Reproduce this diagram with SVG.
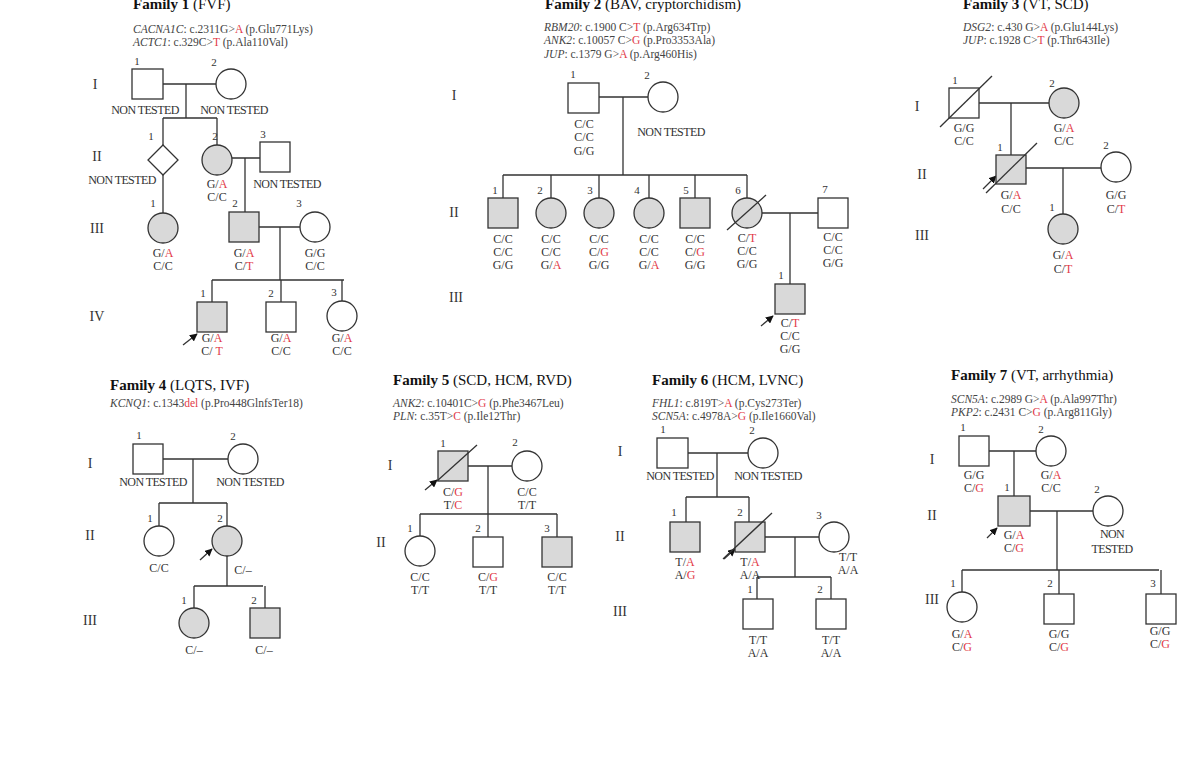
<svg xmlns="http://www.w3.org/2000/svg" width="1200" height="765" viewBox="0 0 1200 765">
<style>
text{font-family:"Liberation Serif","Times New Roman",serif;fill:#333}
.h{font-size:15px;fill:#111}
.hb{font-weight:bold}
.g{font-size:11.5px;fill:#444}
.g tspan.i{font-style:italic}
.t{font-size:12px;text-anchor:middle}
.nt{font-size:12px;text-anchor:middle;letter-spacing:-0.6px}
.n{font-size:11px;text-anchor:middle}
.rm{font-size:14px;text-anchor:middle}
.r{fill:#e23a48}
.s{fill:#fff;stroke:#333;stroke-width:1.3}
.a{fill:#d9d9d9;stroke:#333;stroke-width:1.3}
.l{fill:none;stroke:#333;stroke-width:1.3}
</style>
<defs><marker id="ar" viewBox="0 0 10 10" refX="9" refY="5" markerWidth="6" markerHeight="6" orient="auto"><path d="M0,0L10,5L0,10z" fill="#111"/></marker></defs>
<rect width="1200" height="765" fill="#fff"/>

<!-- Family 1 -->
<g id="fam1-header"><text x="133" y="9" class="h"><tspan class="hb">Family  1</tspan> (FVF)</text>
<text x="133" y="33" class="g"><tspan class="i">CACNA1C</tspan>: c.2311G&gt;<tspan class="r">A</tspan> (p.Glu771Lys)</text>
<text x="133" y="46" class="g"><tspan class="i">ACTC1</tspan>: c.329C&gt;<tspan class="r">T</tspan> (p.Ala110Val)</text>
<text x="95" y="89" class="rm">I</text><text x="97" y="161" class="rm">II</text><text x="97" y="233" class="rm">III</text><text x="97" y="321" class="rm">IV</text></g>
<g id="fam1-connectors">
<path class="l" d="M163,84H216M186,84V118M163,118H217M163,118V145M217,118V145M232,158H260M245,158V212M163,175V213M259,227H300M280,227V280M212,280H344M212,280V302M281,280V302M342,280V301"/>
<path class="l" d="M183,345L197,334" marker-end="url(#ar)"/></g>
<g id="f1-I1"><rect class="s" x="132" y="69" width="31" height="30"/><text x="137" y="65" class="n">1</text><text x="145" y="114" class="nt">NON TESTED</text></g>
<g id="f1-I2"><circle class="s" cx="231" cy="84" r="15"/><text x="214" y="66" class="n">2</text><text x="234" y="114" class="nt">NON TESTED</text></g>
<g id="f1-II1"><path class="s" d="M163,145L178,160L163,175L148,160Z"/><text x="151" y="140" class="n">1</text><text x="122" y="184" class="nt">NON TESTED</text></g>
<g id="f1-II2"><circle class="a" cx="217" cy="160" r="15"/><text x="215" y="140" class="n">2</text><text x="217" y="188" class="t">G/<tspan class="r">A</tspan></text><text x="217" y="201" class="t">C/C</text></g>
<g id="f1-II3"><rect class="s" x="260" y="142" width="30" height="30"/><text x="263" y="138" class="n">3</text><text x="287" y="188" class="nt">NON TESTED</text></g>
<g id="f1-III1"><circle class="a" cx="163" cy="228" r="15"/><text x="153" y="207" class="n">1</text><text x="163" y="257" class="t">G/<tspan class="r">A</tspan></text><text x="163" y="270" class="t">C/C</text></g>
<g id="f1-III2"><rect class="a" x="229" y="212" width="30" height="30"/><text x="235" y="207" class="n">2</text><text x="244" y="257" class="t">G/<tspan class="r">A</tspan></text><text x="244" y="270" class="t">C/<tspan class="r">T</tspan></text></g>
<g id="f1-III3"><circle class="s" cx="315" cy="227" r="15"/><text x="299" y="207" class="n">3</text><text x="315" y="257" class="t">G/G</text><text x="315" y="270" class="t">C/C</text></g>
<g id="f1-IV1"><rect class="a" x="197" y="302" width="30" height="30"/><text x="203" y="297" class="n">1</text><text x="212" y="342" class="t">G/<tspan class="r">A</tspan></text><text x="212" y="355" class="t">C/ <tspan class="r">T</tspan></text></g>
<g id="f1-IV2"><rect class="s" x="266" y="302" width="30" height="30"/><text x="271" y="297" class="n">2</text><text x="281" y="342" class="t">G/<tspan class="r">A</tspan></text><text x="281" y="355" class="t">C/C</text></g>
<g id="f1-IV3"><circle class="s" cx="342" cy="316" r="15"/><text x="334" y="296" class="n">3</text><text x="342" y="342" class="t">G/<tspan class="r">A</tspan></text><text x="342" y="355" class="t">C/C</text></g>

<!-- Family 2 -->
<g id="fam2-header"><text x="545" y="9" class="h"><tspan class="hb">Family  2</tspan> (BAV, cryptorchidism)</text>
<text x="544" y="31" class="g"><tspan class="i">RBM20</tspan>: c.1900 C&gt;<tspan class="r">T</tspan> (p.Arg634Trp)</text>
<text x="544" y="44" class="g"><tspan class="i">ANK2</tspan>: c.10057 C&gt;<tspan class="r">G</tspan> (p.Pro3353Ala)</text>
<text x="544" y="58" class="g"><tspan class="i">JUP</tspan>: c.1379 G&gt;<tspan class="r">A</tspan> (p.Arg460His)</text>
<text x="454" y="100" class="rm">I</text><text x="454" y="217" class="rm">II</text><text x="456" y="302" class="rm">III</text></g>
<g id="fam2-connectors">
<path class="l" d="M599,97H648M623,97V175M503,175H747M503,175V198M551,175V198M599,175V198M649,175V198M695,175V198M747,175V198M762,213H818M790,213V284"/>
<path class="l" d="M761,326L773,316" marker-end="url(#ar)"/></g>
<g id="f2-I1"><rect class="s" x="568" y="83" width="31" height="30"/><text x="573" y="78" class="n">1</text><text x="584" y="128" class="t">C/C</text><text x="584" y="141" class="t">C/C</text><text x="584" y="155" class="t">G/G</text></g>
<g id="f2-I2"><circle class="s" cx="663" cy="97" r="15"/><text x="647" y="79" class="n">2</text><text x="671" y="136" class="nt">NON TESTED</text></g>
<g id="f2-II1"><rect class="a" x="488" y="198" width="30" height="30"/><text x="495" y="194" class="n">1</text><text x="503" y="243" class="t">C/C</text><text x="503" y="256" class="t">C/C</text><text x="503" y="269" class="t">G/G</text></g>
<g id="f2-II2"><circle class="a" cx="551" cy="213" r="15"/><text x="540" y="194" class="n">2</text><text x="551" y="243" class="t">C/C</text><text x="551" y="256" class="t">C/C</text><text x="551" y="269" class="t">G/<tspan class="r">A</tspan></text></g>
<g id="f2-II3"><circle class="a" cx="599" cy="213" r="15"/><text x="590" y="194" class="n">3</text><text x="599" y="243" class="t">C/C</text><text x="599" y="256" class="t">C/<tspan class="r">G</tspan></text><text x="599" y="269" class="t">G/G</text></g>
<g id="f2-II4"><circle class="a" cx="649" cy="213" r="15"/><text x="637" y="194" class="n">4</text><text x="649" y="243" class="t">C/C</text><text x="649" y="256" class="t">C/C</text><text x="649" y="269" class="t">G/<tspan class="r">A</tspan></text></g>
<g id="f2-II5"><rect class="a" x="680" y="198" width="30" height="30"/><text x="686" y="194" class="n">5</text><text x="695" y="243" class="t">C/C</text><text x="695" y="256" class="t">C/<tspan class="r">G</tspan></text><text x="695" y="269" class="t">G/G</text></g>
<g id="f2-II6"><circle class="a" cx="747" cy="213" r="15"/><path class="l" d="M727,230L766,195"/><text x="738" y="194" class="n">6</text><text x="747" y="242" class="t">C/<tspan class="r">T</tspan></text><text x="747" y="255" class="t">C/C</text><text x="747" y="268" class="t">G/G</text></g>
<g id="f2-II7"><rect class="s" x="818" y="198" width="30" height="30"/><text x="825" y="193" class="n">7</text><text x="833" y="241" class="t">C/C</text><text x="833" y="254" class="t">C/C</text><text x="833" y="267" class="t">G/G</text></g>
<g id="f2-III1"><rect class="a" x="775" y="284" width="30" height="30"/><text x="781" y="279" class="n">1</text><text x="790" y="327" class="t">C/<tspan class="r">T</tspan></text><text x="790" y="340" class="t">C/C</text><text x="790" y="353" class="t">G/G</text></g>

<!-- Family 3 -->
<g id="fam3-header"><text x="963" y="9" class="h"><tspan class="hb">Family  3</tspan> (VT, SCD)</text>
<text x="963" y="31" class="g"><tspan class="i">DSG2</tspan>: c.430 G&gt;<tspan class="r">A</tspan> (p.Glu144Lys)</text>
<text x="963" y="44" class="g"><tspan class="i">JUP</tspan>: c.1928 C&gt;<tspan class="r">T</tspan> (p.Thr643Ile)</text>
<text x="917" y="111" class="rm">I</text><text x="922" y="179" class="rm">II</text><text x="922" y="240" class="rm">III</text></g>
<g id="fam3-connectors">
<path class="l" d="M979,103H1049M1011,103V155M1026,168H1101M1063,168V214"/>
<path class="l" d="M983,189L996,176" marker-end="url(#ar)"/></g>
<g id="f3-I1"><rect class="s" x="949" y="88" width="30" height="30"/><path class="l" d="M940,127L992,76"/><text x="955" y="84" class="n">1</text><text x="964" y="132" class="t">G/G</text><text x="964" y="145" class="t">C/C</text></g>
<g id="f3-I2"><circle class="a" cx="1064" cy="103" r="15"/><text x="1052" y="87" class="n">2</text><text x="1064" y="132" class="t">G/<tspan class="r">A</tspan></text><text x="1064" y="145" class="t">C/C</text></g>
<g id="f3-II1"><rect class="a" x="996" y="155" width="30" height="29"/><path class="l" d="M986,193L1037,143"/><text x="1000" y="151" class="n">1</text><text x="1011" y="199" class="t">G/<tspan class="r">A</tspan></text><text x="1011" y="213" class="t">C/C</text></g>
<g id="f3-II2"><circle class="s" cx="1116" cy="167" r="15"/><text x="1106" y="149" class="n">2</text><text x="1116" y="199" class="t">G/G</text><text x="1116" y="213" class="t">C/<tspan class="r">T</tspan></text></g>
<g id="f3-III1"><circle class="a" cx="1063" cy="229" r="15"/><text x="1052" y="211" class="n">1</text><text x="1063" y="259" class="t">G/<tspan class="r">A</tspan></text><text x="1063" y="273" class="t">C/<tspan class="r">T</tspan></text></g>

<!-- Family 4 -->
<g id="fam4-header"><text x="110" y="390" class="h"><tspan class="hb">Family  4</tspan> (LQTS, IVF)</text>
<text x="110" y="407" class="g"><tspan class="i">KCNQ1</tspan>: c.1343<tspan class="r">del</tspan> (p.Pro448GlnfsTer18)</text>
<text x="90" y="468" class="rm">I</text><text x="90" y="540" class="rm">II</text><text x="90" y="625" class="rm">III</text></g>
<g id="fam4-connectors">
<path class="l" d="M163,459H228M193,459V503M159,503H227M159,503V526M227,503V526M227,556V586M194,586H263M194,586V608M265,586V608"/>
<path class="l" d="M200,560L212,549" marker-end="url(#ar)"/></g>
<g id="f4-I1"><rect class="s" x="133" y="444" width="30" height="30"/><text x="139" y="439" class="n">1</text><text x="153" y="486" class="nt">NON TESTED</text></g>
<g id="f4-I2"><circle class="s" cx="243" cy="459" r="15"/><text x="233" y="440" class="n">2</text><text x="250" y="486" class="nt">NON TESTED</text></g>
<g id="f4-II1"><circle class="s" cx="159" cy="541" r="15"/><text x="150" y="522" class="n">1</text><text x="159" y="572" class="t">C/C</text></g>
<g id="f4-II2"><circle class="a" cx="227" cy="541" r="15"/><text x="220" y="522" class="n">2</text><text x="243" y="574" class="t">C/–</text></g>
<g id="f4-III1"><circle class="a" cx="194" cy="623" r="15"/><text x="184" y="604" class="n">1</text><text x="194" y="654" class="t">C/–</text></g>
<g id="f4-III2"><rect class="a" x="250" y="608" width="30" height="30"/><text x="254" y="604" class="n">2</text><text x="264" y="654" class="t">C/–</text></g>

<!-- Family 5 -->
<g id="fam5-header"><text x="393" y="385" class="h"><tspan class="hb">Family  5</tspan> (SCD, HCM, RVD)</text>
<text x="393" y="407" class="g"><tspan class="i">ANK2</tspan>: c.10401C&gt;<tspan class="r">G</tspan> (p.Phe3467Leu)</text>
<text x="393" y="420" class="g"><tspan class="i">PLN</tspan>: c.35T&gt;<tspan class="r">C</tspan> (p.Ile12Thr)</text>
<text x="390" y="470" class="rm">I</text><text x="381" y="547" class="rm">II</text></g>
<g id="fam5-connectors">
<path class="l" d="M468,466H512M488,466V514M420,514H557M420,514V536M488,514V537M557,514V537"/>
<path class="l" d="M425,490L437,480" marker-end="url(#ar)"/></g>
<g id="f5-I1"><rect class="a" x="438" y="451" width="30" height="30"/><path class="l" d="M437,481L477,445"/><text x="443" y="447" class="n">1</text><text x="453" y="496" class="t">C/<tspan class="r">G</tspan></text><text x="453" y="509" class="t">T/<tspan class="r">C</tspan></text></g>
<g id="f5-I2"><circle class="s" cx="527" cy="466" r="15"/><text x="515" y="446" class="n">2</text><text x="527" y="496" class="t">C/C</text><text x="527" y="509" class="t">T/T</text></g>
<g id="f5-II1"><circle class="s" cx="420" cy="551" r="15"/><text x="410" y="532" class="n">1</text><text x="420" y="581" class="t">C/C</text><text x="420" y="594" class="t">T/T</text></g>
<g id="f5-II2"><rect class="s" x="473" y="537" width="30" height="30"/><text x="478" y="532" class="n">2</text><text x="488" y="581" class="t">C/<tspan class="r">G</tspan></text><text x="488" y="594" class="t">T/T</text></g>
<g id="f5-II3"><rect class="a" x="542" y="537" width="30" height="30"/><text x="547" y="532" class="n">3</text><text x="557" y="581" class="t">C/C</text><text x="557" y="594" class="t">T/T</text></g>

<!-- Family 6 -->
<g id="fam6-header"><text x="652" y="385" class="h"><tspan class="hb">Family  6</tspan> (HCM, LVNC)</text>
<text x="652" y="407" class="g"><tspan class="i">FHL1</tspan>: c.819T&gt;<tspan class="r">A</tspan>  (p.Cys273Ter)</text>
<text x="652" y="420" class="g"><tspan class="i">SCN5A</tspan>: c.4978A&gt;<tspan class="r">G</tspan> (p.Ile1660Val)</text>
<text x="620" y="456" class="rm">I</text><text x="620" y="541" class="rm">II</text><text x="620" y="616" class="rm">III</text></g>
<g id="fam6-connectors">
<path class="l" d="M688,453H748M717,453V497M686,497H749M686,497V522M749,497V522M765,537H819M795,537V577M757,577H831M757,577V599M831,577V599"/>
<path class="l" d="M724,559L735,549" marker-end="url(#ar)"/></g>
<g id="f6-I1"><rect class="s" x="657" y="438" width="31" height="30"/><text x="663" y="433" class="n">1</text><text x="680" y="480" class="nt">NON TESTED</text></g>
<g id="f6-I2"><circle class="s" cx="763" cy="453" r="15"/><text x="752" y="434" class="n">2</text><text x="768" y="480" class="nt">NON TESTED</text></g>
<g id="f6-II1"><rect class="a" x="670" y="522" width="30" height="30"/><text x="674" y="516" class="n">1</text><text x="685" y="566" class="t">T/<tspan class="r">A</tspan></text><text x="685" y="579" class="t">A/<tspan class="r">G</tspan></text></g>
<g id="f6-II2"><rect class="a" x="735" y="522" width="30" height="30"/><path class="l" d="M723,559L772,513"/><text x="740" y="516" class="n">2</text><text x="750" y="566" class="t">T/<tspan class="r">A</tspan></text><text x="750" y="579" class="t">A/A</text></g>
<g id="f6-II3"><circle class="s" cx="834" cy="537" r="15"/><text x="819" y="519" class="n">3</text><text x="848" y="561" class="t">T/T</text><text x="848" y="574" class="t">A/A</text></g>
<g id="f6-III1"><rect class="s" x="743" y="599" width="30" height="30"/><text x="750" y="593" class="n">1</text><text x="758" y="644" class="t">T/T</text><text x="758" y="657" class="t">A/A</text></g>
<g id="f6-III2"><rect class="s" x="816" y="599" width="30" height="30"/><text x="820" y="593" class="n">2</text><text x="831" y="644" class="t">T/T</text><text x="831" y="657" class="t">A/A</text></g>

<!-- Family 7 -->
<g id="fam7-header"><text x="951" y="380" class="h"><tspan class="hb">Family  7</tspan> (VT, arrhythmia)</text>
<text x="951" y="403" class="g"><tspan class="i">SCN5A</tspan>: c.2989 G&gt;<tspan class="r">A</tspan> (p.Ala997Thr)</text>
<text x="951" y="416" class="g"><tspan class="i">PKP2</tspan>: c.2431 C&gt;<tspan class="r">G</tspan> (p.Arg811Gly)</text>
<text x="932" y="464" class="rm">I</text><text x="932" y="520" class="rm">II</text><text x="932" y="604" class="rm">III</text></g>
<g id="fam7-connectors">
<path class="l" d="M989,451H1036M1014,451V496M1030,511H1093M1057,511V570M962,570H1159M962,570V592M1059,570V594M1161,570V594"/>
<path class="l" d="M987,538L997,528" marker-end="url(#ar)"/></g>
<g id="f7-I1"><rect class="s" x="959" y="436" width="30" height="30"/><text x="963" y="431" class="n">1</text><text x="974" y="479" class="t">G/G</text><text x="974" y="492" class="t">C/<tspan class="r">G</tspan></text></g>
<g id="f7-I2"><circle class="s" cx="1051" cy="451" r="15"/><text x="1041" y="433" class="n">2</text><text x="1051" y="479" class="t">G/<tspan class="r">A</tspan></text><text x="1051" y="492" class="t">C/C</text></g>
<g id="f7-II1"><rect class="a" x="998" y="496" width="32" height="30"/><text x="1007" y="491" class="n">1</text><text x="1014" y="539" class="t">G/<tspan class="r">A</tspan></text><text x="1014" y="552" class="t">C/<tspan class="r">G</tspan></text></g>
<g id="f7-II2"><circle class="s" cx="1108" cy="511" r="15"/><text x="1097" y="493" class="n">2</text><text x="1112" y="538" class="nt">NON</text><text x="1112" y="553" class="nt">TESTED</text></g>
<g id="f7-III1"><circle class="s" cx="962" cy="607" r="15"/><text x="953" y="587" class="n">1</text><text x="962" y="638" class="t">G/<tspan class="r">A</tspan></text><text x="962" y="651" class="t">C/<tspan class="r">G</tspan></text></g>
<g id="f7-III2"><rect class="s" x="1044" y="594" width="30" height="30"/><text x="1050" y="587" class="n">2</text><text x="1059" y="638" class="t">G/G</text><text x="1059" y="651" class="t">C/<tspan class="r">G</tspan></text></g>
<g id="f7-III3"><rect class="s" x="1146" y="594" width="30" height="30"/><text x="1153" y="587" class="n">3</text><text x="1160" y="635" class="t">G/G</text><text x="1160" y="648" class="t">C/<tspan class="r">G</tspan></text></g>
</svg>
